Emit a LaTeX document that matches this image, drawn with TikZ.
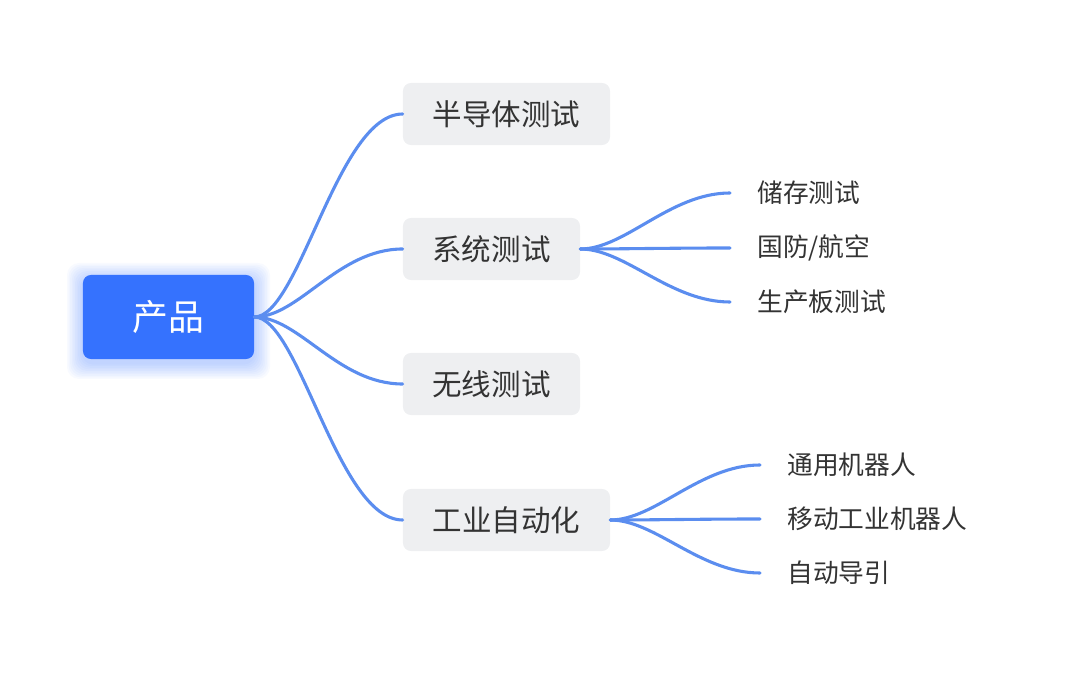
\documentclass[tikz,border=0pt]{standalone}
\usepackage{fontspec}
\newfontfamily\cjk{Noto Sans CJK SC}
\definecolor{rootblue}{HTML}{3572FE}
\definecolor{linkblue}{HTML}{5B8DEF}
\definecolor{boxgray}{HTML}{EEEFF1}
\definecolor{textgray}{HTML}{333333}
\begin{document}
\begin{tikzpicture}[x=0.025cm,y=-0.025cm,
    root/.style={fill=rootblue,rounded corners=0.2cm,minimum width=4.275cm,minimum height=2.1cm,inner sep=0pt,
        text=white,font=\cjk\fontsize{25.5}{30}\selectfont},
    topic/.style={fill=boxgray,rounded corners=0.2cm,minimum height=1.55cm,inner sep=0pt,
        text=textgray,font=\cjk\fontsize{21}{25}\selectfont},
    leaf/.style={anchor=west,inner xsep=0.675cm,inner ysep=0pt,text=textgray,font=\cjk\fontsize{18.3}{22}\selectfont},
    link/.style={draw=linkblue,line width=2.2pt,line cap=round}]
    \useasboundingbox (0,0) rectangle (1080,681);
    % glow under the root
    \foreach \g in {1,...,10}
        \fill[rootblue,opacity=0.035,rounded corners=0.3cm] (83-1.6*\g,279-1.6*\g) rectangle (254+1.6*\g,363+1.6*\g);
    % root and topics
    \node[root] (product) at (168.5,317) {产品};
    \node[topic,minimum width=5.175cm] (semi) at (506.5,114) {半导体测试};
    \node[topic,minimum width=4.425cm] (system) at (491.5,249) {系统测试};
    \node[topic,minimum width=4.425cm] (wireless) at (491.5,384) {无线测试};
    \node[topic,minimum width=5.175cm] (industry) at (506.5,520) {工业自动化};
    % leaves
    \node[leaf] (storage) at (730,193) {储存测试};
    \node[leaf] (defense) at (730,248) {国防/航空};
    \node[leaf] (board) at (730,302) {生产板测试};
    \node[leaf] (general) at (760,465) {通用机器人};
    \node[leaf] (mobile) at (760,519) {移动工业机器人};
    \node[leaf] (agv) at (760,573) {自动导引};
    % links
    \foreach \t in {semi,system,wireless,industry}
        \draw[link] (product.east) .. controls +(45,0) and +(-65,0) .. (\t.west);
    \foreach \t in {storage,defense,board}
        \draw[link] (system.east) .. controls +(45,0) and +(-60,0) .. (\t.west);
    \foreach \t in {general,mobile,agv}
        \draw[link] (industry.east) .. controls +(45,0) and +(-60,0) .. (\t.west);
\end{tikzpicture}
\end{document}
